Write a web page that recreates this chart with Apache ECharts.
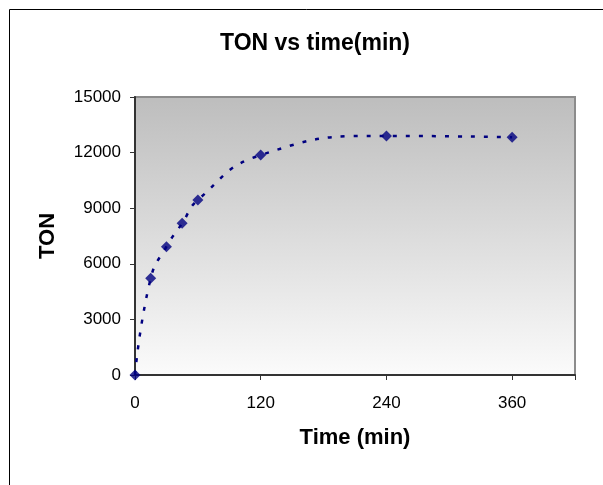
<!DOCTYPE html>
<html>
<head>
<meta charset="utf-8">
<script src="https://cdn.jsdelivr.net/npm/echarts@6/dist/echarts.min.js"></script>
<style>
  html, body { margin: 0; padding: 0; background: #ffffff; }
  #chart { width: 603px; height: 485px; }
</style>
</head>
<body>
<div id="chart"></div>
<script>
// Turnover number measured over reaction time
const timeMin = [0, 15, 30, 45, 60, 120, 240, 360];
const tonValues = [0, 5220, 6925, 8185, 9445, 11870, 12900, 12830];
const xTicks = [0, 120, 240, 360];
const yTicks = [0, 3000, 6000, 9000, 12000, 15000];

const points = timeMin.map((t, i) => [t, tonValues[i]]);

const chart = echarts.init(document.getElementById('chart'), null, { renderer: 'canvas' });
const font = '"Liberation Sans", Arial, sans-serif';

chart.setOption({
  animation: false,
  backgroundColor: '#ffffff',
  title: {
    text: 'TON vs time(min)',
    left: 310,
    top: 27,
    textAlign: 'center',
    textStyle: { fontFamily: font, fontSize: 23, fontWeight: 'bold', color: '#000' }
  },
  graphic: [
    // outer chart frame (top and left edges fall inside the page)
    { type: 'polyline', shape: { points: [[9.5, 490], [9.5, 9.5], [610, 9.5]] },
      style: { stroke: '#000', lineWidth: 1, fill: null }, z: 10 }
  ],
  grid: {
    left: 135, top: 97, width: 440, height: 278,
    show: true,
    borderColor: '#8c8c8c',
    borderWidth: 2,
    backgroundColor: {
      type: 'linear', x: 0, y: 0, x2: 0, y2: 1,
      colorStops: [
        { offset: 0, color: '#bdbdbd' },
        { offset: 1, color: '#fbfbfb' }
      ]
    }
  },
  xAxis: {
    type: 'value',
    min: 0, max: 420, interval: 120,
    name: 'Time (min)',
    nameLocation: 'middle',
    nameGap: 52,
    nameTextStyle: { fontFamily: font, fontSize: 22, fontWeight: 'bold', color: '#000' },
    axisLine: { show: true, onZero: false, lineStyle: { color: '#333', width: 2 } },
    axisTick: { show: true, inside: false, length: 5, lineStyle: { color: '#333' } },
    axisLabel: {
      fontFamily: font, fontSize: 17, color: '#000', margin: 20,
      formatter: v => (xTicks.includes(v) ? String(v) : '')
    },
    splitLine: { show: false }
  },
  yAxis: {
    type: 'value',
    min: 0, max: 15000, interval: 3000,
    name: 'TON',
    nameLocation: 'middle',
    nameGap: 76,
    nameRotate: 90,
    nameTextStyle: { fontFamily: font, fontSize: 22, fontWeight: 'bold', color: '#000' },
    axisLine: { show: true, onZero: false, lineStyle: { color: '#333', width: 2 } },
    axisTick: { show: true, inside: false, length: 5, lineStyle: { color: '#333' } },
    axisLabel: {
      fontFamily: font, fontSize: 17, color: '#000', margin: 14,
      formatter: v => (yTicks.includes(v) ? String(v) : '')
    },
    splitLine: { show: false }
  },
  series: [
    {
      // dotted trend curve through the measurements
      type: 'line',
      data: points,
      smooth: 0.5,
      showSymbol: false,
      lineStyle: { color: '#000080', width: 2.5, type: [4, 9] },
      z: 2
    },
    {
      type: 'scatter',
      data: points,
      symbol: 'diamond',
      symbolSize: 11,
      itemStyle: { color: '#000080' },
      z: 3
    }
  ]
});
</script>
</body>
</html>
